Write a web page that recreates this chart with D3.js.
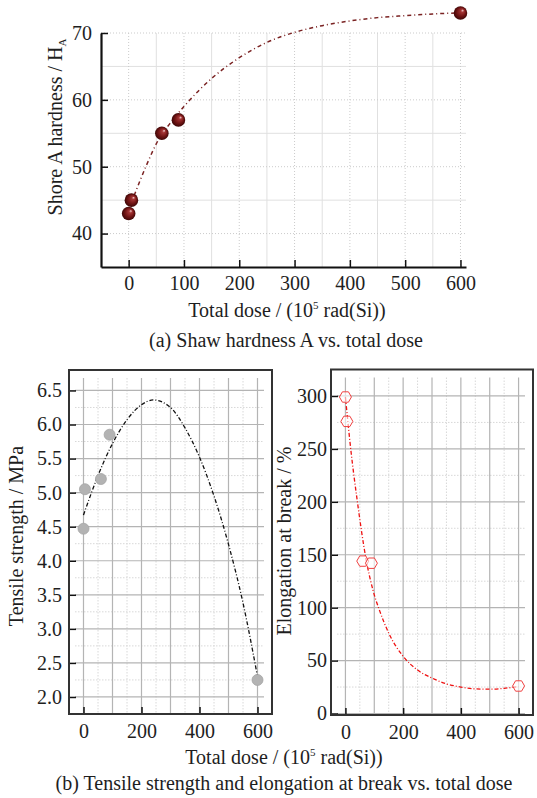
<!DOCTYPE html>
<html lang="en">

<head>
    <meta charset="UTF-8">
    <script src="https://cdn.jsdelivr.net/npm/d3@7/dist/d3.min.js"></script>
    <title>Dose charts</title>
</head>
<style>
    body {
        margin: 0;
        background: #fff;
    }

    text {
        font-family: "Liberation Serif", "Times New Roman", serif;
        fill: #1e1e1e;
    }

    .axis text {
        font-size: 20px;
    }

    .axis path,
    .axis line {
        stroke: #111;
    }
</style>

<body>

</body>
<script>
    // measured data
    var dose = [0, 5, 60, 90, 600];
    var hardness = [43, 45, 55, 57, 73];
    var tensile = [4.47, 5.05, 5.2, 5.85, 2.25];
    var elongation = [299, 276, 144, 142, 26];

    // fitted curves
    var hardFitX = [10, 30, 55, 80, 100, 150, 200, 250, 300, 350, 400, 450, 500, 550, 600];
    var hardFitY = [45.7, 49.8, 54.2, 57.0, 59.0, 63.2, 66.3, 68.6, 70.1, 71.1, 71.8, 72.3, 72.6, 72.85, 73];
    var tensFitX = [0, 50, 100, 150, 200, 240, 300, 350, 400, 450, 500, 550, 600];
    var tensFitY = [4.67, 5.25, 5.72, 6.07, 6.29, 6.36, 6.25, 5.95, 5.52, 4.95, 4.24, 3.38, 2.3];
    var elongFitX = [0, 20, 40, 72, 95, 120, 150, 200, 250, 300, 350, 400, 450, 500, 550, 600];
    var elongFitY = [299, 246, 203, 145, 117, 96, 76, 54, 41, 33.5, 28, 25, 23.3, 23, 23.8, 25.5];

    // ticks
    var hardXTicks = [0, 100, 200, 300, 400, 500, 600];
    var hardYTicks = [40, 50, 60, 70];
    var lowXTicks = [0, 200, 400, 600];
    var tensYTicks = [2.0, 2.5, 3.0, 3.5, 4.0, 4.5, 5.0, 5.5, 6.0, 6.5];
    var elongYTicks = [0, 50, 100, 150, 200, 250, 300];

    var width = 537;
    var height = 798;
    var svg = d3.select("body").append("svg").attr("width", width).attr("height", height);

    var defs = svg.append("defs");
    var grad = defs.append("radialGradient").attr("id", "ball")
        .attr("cx", "50%").attr("cy", "50%").attr("r", "50%")
        .attr("fx", "68%").attr("fy", "30%");
    grad.append("stop").attr("offset", "0%").attr("stop-color", "#f4d6d6");
    grad.append("stop").attr("offset", "22%").attr("stop-color", "#a53535");
    grad.append("stop").attr("offset", "65%").attr("stop-color", "#701414");
    grad.append("stop").attr("offset", "100%").attr("stop-color", "#3e0606");

    function pairs(xs, ys) {
        return xs.map(function(x, i) {
            return [x, ys[i]];
        });
    }

    function hLines(g, vals, x0, x1, y, color, dash, w) {
        g.selectAll(null).data(vals).enter().append("line")
            .attr("x1", x0).attr("x2", x1)
            .attr("y1", function(d) { return y(d); })
            .attr("y2", function(d) { return y(d); })
            .attr("stroke", color).attr("stroke-width", w)
            .attr("stroke-dasharray", dash);
    }

    function vLines(g, vals, y0, y1, x, color, dash, w) {
        g.selectAll(null).data(vals).enter().append("line")
            .attr("y1", y0).attr("y2", y1)
            .attr("x1", function(d) { return x(d); })
            .attr("x2", function(d) { return x(d); })
            .attr("stroke", color).attr("stroke-width", w)
            .attr("stroke-dasharray", dash);
    }

    function doseLabel(x, y) {
        var t = svg.append("text").attr("x", x).attr("y", y)
            .attr("text-anchor", "middle").style("font-size", "20px");
        t.append("tspan").text("Total dose / (10");
        t.append("tspan").attr("dy", -8).style("font-size", "11px").text("5");
        t.append("tspan").attr("dy", 8).text(" rad(Si))");
    }

    // ---------- (a) hardness ----------
    var xA = d3.scaleLinear().domain([-50, 610]).range([101, 466]);
    var yA = d3.scaleLinear().domain([35, 70]).range([267, 33]);
    var gA = svg.append("g");

    vLines(gA, [50, 150, 250, 350, 450, 550], 33, 267, xA, "#e0e0e0", null, 1);
    hLines(gA, [45, 55, 65], 101, 466, yA, "#e0e0e0", null, 1);
    vLines(gA, hardXTicks, 33, 267, xA, "#cbcbcb", "1,2", 1);
    hLines(gA, hardYTicks, 101, 466, yA, "#cbcbcb", "1,2", 1);

    gA.append("path")
        .datum(pairs(hardFitX, hardFitY))
        .attr("fill", "none")
        .attr("stroke", "#7a2222")
        .attr("stroke-width", 1.5)
        .attr("stroke-dasharray", "4,3,1,3")
        .attr("d", d3.line().x(function(d) { return xA(d[0]); }).y(function(d) { return yA(d[1]); }).curve(d3.curveMonotoneX));

    gA.selectAll("circle").data(pairs(dose, hardness)).enter().append("circle")
        .attr("cx", function(d) { return xA(d[0]); })
        .attr("cy", function(d) { return yA(d[1]); })
        .attr("r", 6.8)
        .attr("fill", "url(#ball)");

    gA.append("g").attr("class", "axis")
        .attr("transform", "translate(0,267)")
        .call(d3.axisBottom(xA).tickValues(hardXTicks).tickSize(-7).tickSizeOuter(0).tickPadding(9))
        .call(function(g) { g.select(".domain").attr("stroke-width", 2.2); g.selectAll(".tick line").attr("stroke-width", 1.5); });

    gA.append("g").attr("class", "axis")
        .attr("transform", "translate(101,0)")
        .call(d3.axisLeft(yA).tickValues(hardYTicks).tickSize(-7).tickSizeOuter(0).tickPadding(9))
        .call(function(g) { g.select(".domain").attr("stroke-width", 2.2); g.selectAll(".tick line").attr("stroke-width", 1.5); });

    var labA = svg.append("text").attr("transform", "translate(62,127) rotate(-90)")
        .attr("text-anchor", "middle").style("font-size", "20px");
    labA.append("tspan").text("Shore A hardness / H");
    labA.append("tspan").attr("dy", 4).style("font-size", "11px").text("A");

    doseLabel(287, 317);
    svg.append("text").attr("x", 286).attr("y", 347).attr("text-anchor", "middle")
        .style("font-size", "20px").text("(a) Shaw hardness A vs. total dose");

    // ---------- (b) boxed panels ----------
    function boxPanel(opt) {
        var g = svg.append("g");
        var x = opt.x, y = opt.y;
        var gx0 = opt.left + 6, gx1 = opt.right - 8, gy0 = opt.top + 8;

        vLines(g, [50, 150, 250, 350, 450, 550], gy0, opt.bottom, x, "#d8d8d8", "1.5,1.5", 1);
        hLines(g, opt.minorY, gx0, gx1, y, "#d8d8d8", "1.5,1.5", 1);
        vLines(g, [0, 100, 200, 300, 400, 500, 600], gy0, opt.bottom, x, "#b4b4b4", null, 1.2);
        hLines(g, opt.yTicks, gx0, gx1, y, "#b4b4b4", null, 1.2);

        g.append("path")
            .datum(opt.fit)
            .attr("fill", "none")
            .attr("stroke", opt.fitColor)
            .attr("stroke-width", 1.3)
            .attr("stroke-dasharray", "4,2,1,2")
            .attr("d", d3.line().x(function(d) { return x(d[0]); }).y(function(d) { return y(d[1]); }).curve(d3.curveMonotoneX));

        opt.marks(g);

        var ax = g.append("g").attr("class", "axis")
            .attr("transform", "translate(0," + opt.bottom + ")")
            .call(d3.axisBottom(x).tickValues(lowXTicks).tickSize(-7).tickSizeOuter(0).tickPadding(10));
        ax.select(".domain").remove();
        ax.selectAll(".tick line").attr("stroke-width", 1.5);

        var ay = g.append("g").attr("class", "axis")
            .attr("transform", "translate(" + opt.left + ",0)")
            .call(d3.axisLeft(y).tickValues(opt.yTicks).tickFormat(opt.fmt).tickSize(-7).tickSizeOuter(0).tickPadding(opt.pad));
        ay.select(".domain").remove();
        ay.selectAll(".tick line").attr("stroke-width", 1.5);

        g.append("rect")
            .attr("x", opt.left).attr("y", opt.top)
            .attr("width", opt.right - opt.left).attr("height", opt.bottom - opt.top)
            .attr("fill", "none").attr("stroke", "#333").attr("stroke-width", 2);

        svg.append("text").attr("transform", "translate(" + opt.labX + "," + opt.labY + ") rotate(-90)")
            .attr("text-anchor", "middle").style("font-size", "20px").text(opt.label);
    }

    var xB = d3.scaleLinear().domain([-50, 650]).range([69, 272]);
    var yB = d3.scaleLinear().domain([1.75, 6.8]).range([714, 370]);
    boxPanel({
        x: xB, y: yB, left: 69, right: 272, top: 370, bottom: 714,
        yTicks: tensYTicks, minorY: [2.25, 2.75, 3.25, 3.75, 4.25, 4.75, 5.25, 5.75, 6.25],
        fmt: d3.format(".1f"), pad: 7,
        fit: pairs(tensFitX, tensFitY), fitColor: "#111",
        label: "Tensile strength / MPa", labX: 23, labY: 536,
        marks: function(g) {
            g.selectAll("circle.pt").data(pairs(dose, tensile)).enter().append("circle")
                .attr("class", "pt")
                .attr("cx", function(d) { return xB(d[0]); })
                .attr("cy", function(d) { return yB(d[1]); })
                .attr("r", 5.5)
                .attr("fill", "#b3b3b3")
                .attr("stroke", "#a5a5a5").attr("stroke-width", 0.8);
        }
    });

    var xC = d3.scaleLinear().domain([-50, 650]).range([331, 533]);
    var yC = d3.scaleLinear().domain([0, 325]).range([713.5, 369.5]);
    var hex = d3.line()(d3.range(6).map(function(i) {
        var a = i * Math.PI / 3;
        return [6 * Math.cos(a), 6 * Math.sin(a)];
    })) + "Z";
    boxPanel({
        x: xC, y: yC, left: 331, right: 533, top: 369.5, bottom: 715,
        yTicks: elongYTicks, minorY: [25, 75, 125, 175, 225, 275],
        fmt: d3.format("d"), pad: 4,
        fit: pairs(elongFitX, elongFitY), fitColor: "#ee1111",
        label: "Elongation at break / %", labX: 291, labY: 541,
        marks: function(g) {
            g.selectAll("path.pt").data(pairs(dose, elongation)).enter().append("path")
                .attr("class", "pt")
                .attr("transform", function(d) { return "translate(" + xC(d[0]) + "," + yC(d[1]) + ")"; })
                .attr("d", hex)
                .attr("fill", "rgba(255,255,255,0.6)")
                .attr("stroke", "#f04040").attr("stroke-width", 1);
        }
    });

    doseLabel(284, 764);
    svg.append("text").attr("x", 284).attr("y", 790).attr("text-anchor", "middle")
        .style("font-size", "20px").text("(b) Tensile strength and elongation at break vs. total dose");
</script>

</html>
